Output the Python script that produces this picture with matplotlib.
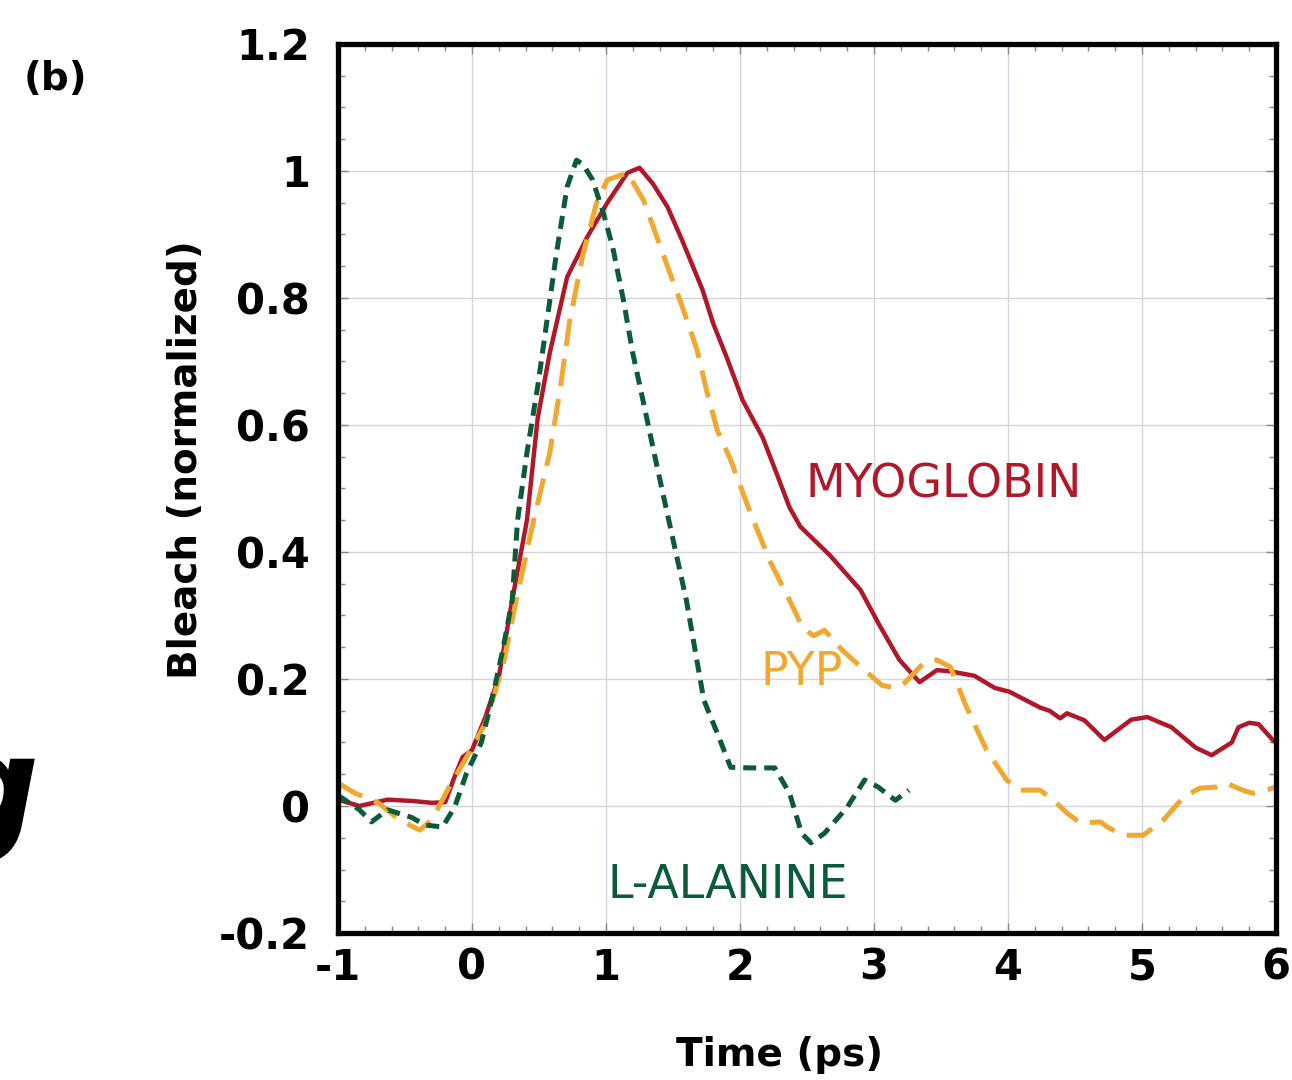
import numpy as np
import matplotlib
matplotlib.use("Agg")
import matplotlib.pyplot as plt
from matplotlib.ticker import MultipleLocator

# values (time in ps, normalized bleach)
myo_t = [-1.0, -0.84, -0.63, -0.45, -0.3, -0.2, -0.13, -0.07, 0.0, 0.1, 0.2, 0.3, 0.41, 0.49,
         0.58, 0.71, 0.86, 1.01, 1.16, 1.25, 1.35, 1.46, 1.57, 1.72, 1.80, 1.90, 2.02, 2.17,
         2.28, 2.37, 2.45, 2.67, 2.90, 3.04, 3.19, 3.34, 3.47, 3.57, 3.75, 3.90, 4.01, 4.24,
         4.31, 4.39, 4.44, 4.57, 4.72, 4.92, 5.04, 5.22, 5.40, 5.52, 5.67, 5.72, 5.80, 5.87,
         5.98]
myo_y = [0.01, 0.0, 0.01, 0.008, 0.005, 0.006, 0.046, 0.077, 0.088, 0.14, 0.203, 0.324, 0.45, 0.61,
         0.713, 0.833, 0.896, 0.95, 0.997, 1.005, 0.98, 0.943, 0.89, 0.813, 0.76, 0.707, 0.639, 0.58,
         0.52, 0.47, 0.44, 0.395, 0.34, 0.285, 0.23, 0.195, 0.214, 0.212, 0.205, 0.186, 0.18, 0.155,
         0.150, 0.138, 0.146, 0.135, 0.104, 0.136, 0.14, 0.124, 0.092, 0.08, 0.10, 0.124, 0.131, 0.129,
         0.103]

pyp_t = [-1.0, -0.87, -0.70, -0.54, -0.39, -0.30, -0.17, -0.04, 0.10, 0.23, 0.33, 0.46, 0.58,
         0.66, 0.73, 0.83, 0.93, 1.01, 1.16, 1.28, 1.38, 1.46, 1.57, 1.68, 1.75, 1.83, 1.93,
         2.07, 2.22, 2.37, 2.47, 2.55, 2.63, 2.76, 2.87, 3.06, 3.16, 3.23, 3.37, 3.47, 3.57,
         3.69, 3.84, 3.99, 4.09, 4.24, 4.34, 4.44, 4.54, 4.69, 4.74, 4.86, 5.01, 5.16, 5.31,
         5.43, 5.56, 5.63, 5.75, 5.83, 5.93, 6.0]
pyp_y = [0.036, 0.02, 0.005, -0.022, -0.038, -0.022, 0.03, 0.077, 0.13, 0.219, 0.324, 0.45, 0.556,
         0.66, 0.765, 0.87, 0.95, 0.986, 0.997, 0.954, 0.896, 0.849, 0.786, 0.718, 0.655, 0.592, 0.545,
         0.466, 0.387, 0.324, 0.28, 0.268, 0.277, 0.246, 0.225, 0.19, 0.186, 0.194, 0.225, 0.23, 0.219,
         0.156, 0.088, 0.041, 0.025, 0.025, 0.009, -0.011, -0.027, -0.025, -0.033, -0.046, -0.046, -0.022, 0.014,
         0.028, 0.03, 0.036, 0.025, 0.02, 0.025, 0.03]

ala_t = [-1.0, -0.84, -0.75, -0.63, -0.45, -0.35, -0.22, -0.13, -0.04, 0.07, 0.16, 0.23, 0.30,
         0.34, 0.41, 0.49, 0.56, 0.63, 0.71, 0.78, 0.83, 0.90, 0.98, 1.05, 1.13, 1.20, 1.28,
         1.35, 1.43, 1.60, 1.73, 1.83, 1.93, 2.07, 2.26, 2.37, 2.46, 2.53, 2.63, 2.80, 2.93,
         3.03, 3.16, 3.26]
ala_y = [0.017, -0.006, -0.025, -0.006, -0.018, -0.03, -0.033, -0.002, 0.052, 0.1, 0.178, 0.246, 0.324,
         0.45, 0.556, 0.66, 0.765, 0.87, 0.975, 1.017, 1.01, 0.986, 0.934, 0.88, 0.797, 0.713, 0.635,
         0.565, 0.487, 0.324, 0.167, 0.115, 0.061, 0.06, 0.06, 0.02, -0.043, -0.058, -0.043, -0.002, 0.041,
         0.03, 0.009, 0.025]

red = '#b0182a'
orange = '#f0a830'
green = '#0b5a38'

fig = plt.figure(figsize=(12.92, 10.8), dpi=100)
ax = fig.add_axes([0.2616, 0.1361, 0.7260, 0.8232])

ax.plot(myo_t, myo_y, color=red, lw=3.2, solid_joinstyle='round')
ax.plot(pyp_t, pyp_y, color=orange, lw=3.6, dashes=(5.5, 2.6))
ax.plot(ala_t, ala_y, color=green, lw=3.6, dashes=(2.6, 1.6))

ax.set_xlim(-1, 6)
ax.set_ylim(-0.2, 1.2)
ax.xaxis.set_minor_locator(MultipleLocator(0.2))
ax.yaxis.set_minor_locator(MultipleLocator(0.05))
ax.set_xticks([-1, 0, 1, 2, 3, 4, 5, 6])
ax.set_xticklabels(['-1', '0', '1', '2', '3', '4', '5', '6'])
ax.set_yticks([-0.2, 0, 0.2, 0.4, 0.6, 0.8, 1.0, 1.2])
ax.set_yticklabels(['-0.2', '0', '0.2', '0.4', '0.6', '0.8', '1', '1.2'])
ax.grid(True, which='major', color='#d4d4dc', lw=1.0)
ax.tick_params(which='both', direction='in', top=True, right=True, color='#888888')
ax.tick_params(which='major', length=7, width=1, labelsize=30)
ax.tick_params(axis='x', which='major', pad=10)
ax.tick_params(axis='y', which='major', pad=20)
ax.tick_params(which='minor', length=5, width=1)
for lab in ax.get_xticklabels() + ax.get_yticklabels():
    lab.set_fontweight('bold')
for s in ax.spines.values():
    s.set_linewidth(3.8)
    s.set_color('black')

ax.set_xlabel('Time (ps)', fontsize=28, fontweight='bold')
ax.xaxis.set_label_coords(0.471, -0.116)
ax.set_ylabel('Bleach (normalized)', fontsize=28, fontweight='bold')
ax.yaxis.set_label_coords(-0.142, 0.532)

ax.text(2.49, 0.505, 'MYOGLOBIN', color=red, fontsize=33, va='center', ha='left')
ax.text(2.15, 0.21, 'PYP', color=orange, fontsize=33, va='center', ha='left')
ax.text(1.01, -0.125, 'L-ALANINE', color=green, fontsize=33, va='center', ha='left')

fig.text(0.043, 0.927, '(b)', fontsize=28, fontweight='bold', ha='center', va='center')
fig.text(-0.047, 0.262, 'g', fontsize=100, fontweight='bold', style='italic', ha='left', va='center')

fig.savefig('out.png', dpi=100)
